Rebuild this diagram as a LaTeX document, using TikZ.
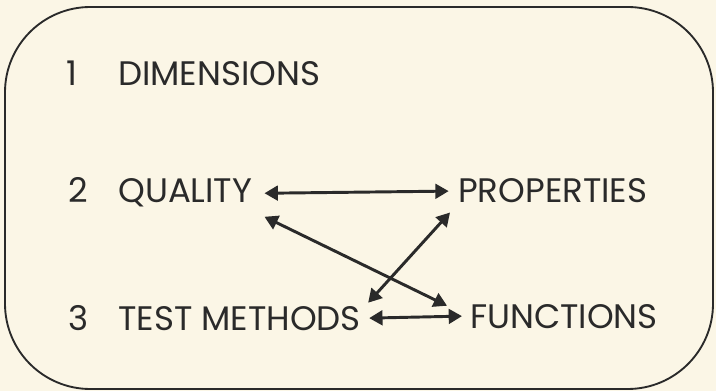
\documentclass[tikz,border=0pt]{standalone}
\usepackage{fontspec}
\setmainfont{Poppins}
\usetikzlibrary{arrows.meta}
\definecolor{cream}{HTML}{FBF6E6}
\definecolor{ink}{HTML}{2A2A2A}

\begin{document}
\begin{tikzpicture}[x=0.75pt,y=0.75pt,yscale=-1,xscale=1,
  lbl/.style={anchor=base west,inner sep=0pt,text=ink,font=\fontsize{25.5}{30}\selectfont},
  dbl/.style={draw=ink,line width=2.2pt,{Triangle[length=10pt,width=11pt]}-{Triangle[length=10pt,width=11pt]}}]
%set diagram at 0,0 with 716 x 391

%Shape: Background
\fill[cream] (0,0) rectangle (716,391);
%Shape: Rounded Frame
\draw[ink,line width=1.4pt,rounded corners=64pt] (5,7) rectangle (713,389);

% Text Node
\node[lbl] (n1) at (66,86) {1};
% Text Node
\node[lbl] (dim) at (118,86) {DIMENSIONS};
% Text Node
\node[lbl] (n2) at (68,203) {2};
% Text Node
\node[lbl] (qual) at (118,203) {QUALITY};
% Text Node
\node[lbl] (prop) at (458,203) {PROPERTIES};
% Text Node
\node[lbl] (n3) at (68,330) {3};
% Text Node
\node[lbl] (test) at (118,330) {TEST METHODS};
% Text Node
\node[lbl] (func) at (470,328) {FUNCTIONS};

%Straight Lines
\draw[dbl] ([xshift=9]qual.east) -- ([xshift=-7]prop.west);
%Straight Lines
\draw[dbl] ([shift={(12,9)}]qual.south east) -- ([shift={(-23,2)}]func.north west);
%Straight Lines
\draw[dbl] ([shift={(-8,9)}]prop.south west) -- ([shift={(7,-3)}]test.north east);
%Straight Lines
\draw[dbl] ([xshift=6]test.east) -- ([xshift=-6]func.west);

\end{tikzpicture}
\end{document}
